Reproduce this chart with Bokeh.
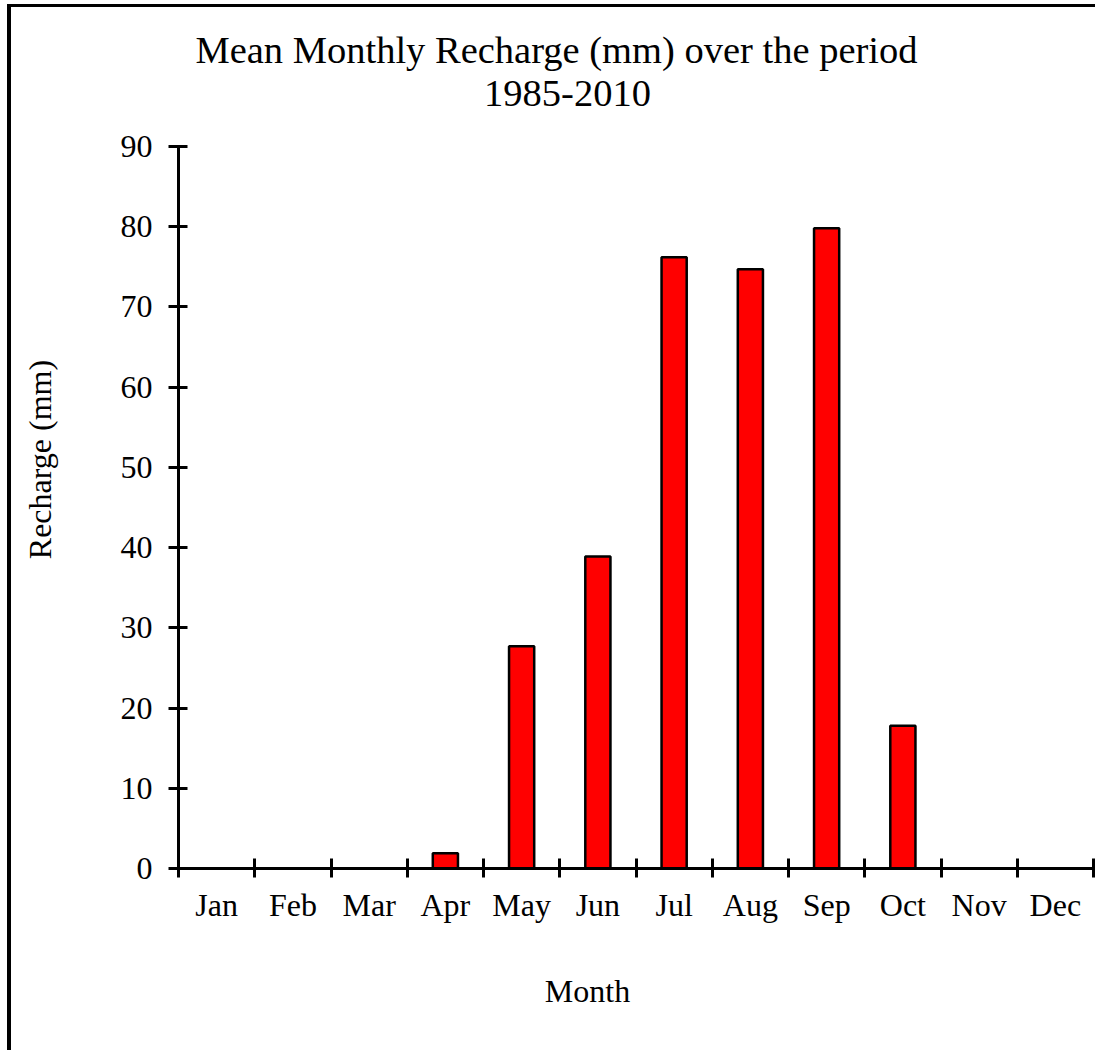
from bokeh.plotting import figure
from bokeh.models import Label, FixedTicker, Range1d
from bokeh.embed import file_html
from bokeh.resources import INLINE
import math

months = ["Jan", "Feb", "Mar", "Apr", "May", "Jun", "Jul", "Aug", "Sep", "Oct", "Nov", "Dec"]
recharge = [0, 0, 0, 1.9, 27.7, 38.9, 76.2, 74.7, 79.8, 17.8, 0, 0]
y_ticks = [0, 10, 20, 30, 40, 50, 60, 70, 80, 90]
title_lines = ["Mean Monthly Recharge (mm) over the period", "1985-2010"]
x_label = "Month"
y_label = "Recharge (mm)"

FONT = "Liberation Serif"

# layout (pixels of the canvas)
W, H = 1088, 1046
PX_PER_X = 76.25        # one month
PX_PER_Y = 8.0222       # one mm
LEFT, BOTTOM = 167, 185  # where the axes cross, measured from canvas left / bottom
y_max = y_ticks[-1]

x_start = -LEFT / PX_PER_X
x_end = x_start + W / PX_PER_X
y_start = -BOTTOM / PX_PER_Y
y_end = y_start + H / PX_PER_Y

p = figure(width=W, height=H, output_backend="svg", toolbar_location=None,
           x_range=Range1d(x_start, x_end), y_range=Range1d(y_start, y_end),
           min_border=0, title=None,
           styles={"border-left": "4px solid black", "border-top": "3px solid black",
                   "margin-left": "7px", "margin-top": "4px"})
p.outline_line_color = None
p.xgrid.grid_line_color = None
p.ygrid.grid_line_color = None
p.background_fill_color = "white"
p.border_fill_color = "white"

centers = [i + 0.5 for i in range(len(months))]
bounds = [i for i in range(len(months) + 1)]
p.vbar(x=centers, top=recharge, width=0.33, bottom=0,
       fill_color="#ff0000", line_color="black", line_width=2.5)

# x axis: labels centered on months, ticks at month boundaries
xa = p.xaxis[0]
xa.fixed_location = 0
xa.bounds = (0, len(months))
xa.ticker = FixedTicker(ticks=centers, minor_ticks=bounds)
xa.major_label_overrides = {c: m for c, m in zip(centers, months)}
xa.major_tick_line_color = None
xa.major_tick_in = 0
xa.major_tick_out = 0
xa.minor_tick_in = 10
xa.minor_tick_out = 9
xa.minor_tick_line_width = 3
xa.minor_tick_line_color = "black"
xa.axis_line_width = 3
xa.axis_line_color = "black"
xa.major_label_text_font = FONT
xa.major_label_text_font_size = "32px"
xa.major_label_text_color = "black"
xa.major_label_standoff = 9

ya = p.yaxis[0]
ya.fixed_location = 0
ya.bounds = (0, y_max)
ya.ticker = FixedTicker(ticks=y_ticks, minor_ticks=[])
ya.major_tick_in = 9
ya.major_tick_out = 10
ya.major_tick_line_width = 3
ya.major_tick_line_color = "black"
ya.minor_tick_line_color = None
ya.axis_line_width = 3
ya.axis_line_color = "black"
ya.major_label_text_font = FONT
ya.major_label_text_font_size = "32px"
ya.major_label_text_color = "black"
ya.major_label_standoff = 16

def add_text(x, y, txt, size, angle=0):
    p.add_layout(Label(x=x, y=y, text=txt, text_font=FONT, text_font_size=size,
                       text_color="black", text_align="center", text_baseline="alphabetic",
                       angle=angle))

add_text(4.957, 102.09, title_lines[0], "38.5px")
add_text(5.102, 96.61, title_lines[1], "38.5px")
add_text(5.364, -15.33, x_label, "32px")
add_text(-1.822, 50.98, y_label, "32px", angle=math.pi / 2)

open("out.html", "w").write(file_html(p, INLINE))
